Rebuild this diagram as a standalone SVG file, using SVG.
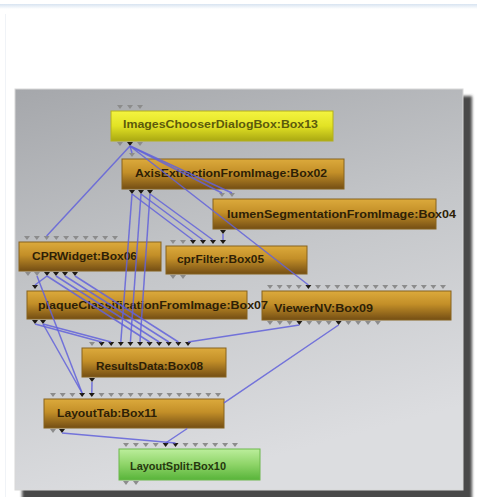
<svg xmlns="http://www.w3.org/2000/svg" xmlns:xlink="http://www.w3.org/1999/xlink" width="477" height="497" viewBox="0 0 477 497">
<defs>
<linearGradient id="panel" x1="0" y1="0" x2="0.3" y2="1">
<stop offset="0" stop-color="#a5a7ab"/>
<stop offset="0.5" stop-color="#c4c6c9"/>
<stop offset="1" stop-color="#dcdde0"/>
</linearGradient>
<linearGradient id="gold" x1="0" y1="0" x2="0" y2="1">
<stop offset="0" stop-color="#dcaa3c"/>
<stop offset="0.45" stop-color="#c38f28"/>
<stop offset="1" stop-color="#744e14"/>
</linearGradient>
<linearGradient id="yellow" x1="0" y1="0" x2="0" y2="1">
<stop offset="0" stop-color="#f4f440"/>
<stop offset="0.5" stop-color="#e2e224"/>
<stop offset="1" stop-color="#a9a812"/>
</linearGradient>
<linearGradient id="green" x1="0" y1="0" x2="0" y2="1">
<stop offset="0" stop-color="#bcee9c"/>
<stop offset="0.5" stop-color="#8ed468"/>
<stop offset="1" stop-color="#58b43a"/>
</linearGradient>
<linearGradient id="topband" x1="0" y1="0" x2="0" y2="1">
<stop offset="0" stop-color="#d8e4f1"/>
<stop offset="1" stop-color="#ffffff"/>
</linearGradient>
<filter id="blur" x="-5%" y="-5%" width="110%" height="110%"><feGaussianBlur stdDeviation="1.5"/></filter>
<path id="pg" d="M-3,0 L3,0 L0,4 Z" fill="#8c8c8c"/>
<path id="pb" d="M-3,0 L3,0 L0,4 Z" fill="#1e1a14"/>
</defs>
<style>
.box{stroke:#86621e;stroke-width:1}
.gold{fill:url(#gold)}
.yel{fill:url(#yellow);stroke:#b4b01c}
.grn{fill:url(#green);stroke:#6cb84c}
.lbl{font-family:"Liberation Sans",Arial,sans-serif;font-weight:bold;font-size:11px;fill:#2e1f06}
.lbl.y{fill:#5c5a0c}
.lbl.g{fill:#26380e}
.con{fill:none;stroke:#6262da;stroke-width:1.5;stroke-opacity:0.85}
</style>
<rect x="0" y="0" width="477" height="497" fill="#ffffff"/>
<rect x="0" y="4" width="477" height="5" fill="url(#topband)"/>
<line x1="5.5" y1="14" x2="5.5" y2="497" stroke="#f0f3f7" stroke-width="1"/>
<rect x="22" y="96" width="450" height="404" fill="#4a4a4a" filter="url(#blur)"/>
<rect x="15" y="89" width="448" height="401" fill="url(#panel)" stroke="#d8d8d8" stroke-width="1"/>

<g id="node-box13">
<rect class="box yel" x="111" y="111" width="222" height="30"/>
<text class="lbl y" x="123" y="128" textLength="195" lengthAdjust="spacingAndGlyphs">ImagesChooserDialogBox:Box13</text>
<use href="#pg" x="120" y="105"/><use href="#pg" x="130" y="105"/><use href="#pg" x="140" y="105"/>
<use href="#pg" x="120" y="142"/><use href="#pb" x="130" y="142"/><use href="#pg" x="140" y="142"/>
</g>
<g id="node-box02">
<rect class="box gold" x="122" y="159" width="222" height="30"/>
<text class="lbl" x="135" y="177" textLength="192" lengthAdjust="spacingAndGlyphs">AxisExtractionFromImage:Box02</text>
<use href="#pg" x="132" y="153"/>
<use href="#pb" x="132" y="190"/><use href="#pb" x="141" y="190"/><use href="#pb" x="150" y="190"/>
</g>
<g id="node-box04">
<rect class="box gold" x="213" y="199" width="223" height="30"/>
<text class="lbl" x="227" y="218" textLength="229" lengthAdjust="spacingAndGlyphs">lumenSegmentationFromImage:Box04</text>
<use href="#pg" x="222" y="193"/><use href="#pg" x="232" y="193"/>
<use href="#pb" x="223" y="230"/>
</g>
<g id="node-box06">
<rect class="box gold" x="19" y="242" width="142" height="29"/>
<text class="lbl" x="32" y="260" textLength="105" lengthAdjust="spacingAndGlyphs">CPRWidget:Box06</text>
<use href="#pg" x="27" y="236"/><use href="#pg" x="36.8" y="236"/><use href="#pg" x="46.6" y="236"/><use href="#pg" x="56.3" y="236"/><use href="#pg" x="66.1" y="236"/><use href="#pg" x="75.9" y="236"/><use href="#pg" x="85.7" y="236"/><use href="#pg" x="95.4" y="236"/><use href="#pg" x="105.2" y="236"/><use href="#pg" x="115" y="236"/>
<use href="#pg" x="28" y="272"/><use href="#pg" x="37" y="272"/><use href="#pb" x="47" y="272"/><use href="#pb" x="56" y="272"/><use href="#pb" x="65" y="272"/><use href="#pb" x="75" y="272"/>
</g>
<g id="node-box05">
<rect class="box gold" x="166" y="246" width="141" height="28"/>
<text class="lbl" x="177" y="263" textLength="87" lengthAdjust="spacingAndGlyphs">cprFilter:Box05</text>
<use href="#pg" x="173" y="240"/><use href="#pg" x="183" y="240"/><use href="#pb" x="193" y="240"/><use href="#pb" x="203" y="240"/><use href="#pb" x="213" y="240"/><use href="#pb" x="223" y="240"/>
<use href="#pg" x="173" y="275"/><use href="#pg" x="183" y="275"/>
</g>
<g id="node-box09">
<rect class="box gold" x="262" y="291" width="189" height="29"/>
<text class="lbl" x="274" y="312" textLength="99" lengthAdjust="spacingAndGlyphs">ViewerNV:Box09</text>
<use href="#pg" x="270" y="285"/><use href="#pg" x="279.6" y="285"/><use href="#pg" x="289.2" y="285"/><use href="#pg" x="298.8" y="285"/><use href="#pb" x="308.4" y="285"/><use href="#pg" x="318" y="285"/><use href="#pg" x="327.7" y="285"/><use href="#pg" x="337.3" y="285"/><use href="#pg" x="346.9" y="285"/><use href="#pg" x="356.5" y="285"/><use href="#pg" x="366.1" y="285"/><use href="#pg" x="375.7" y="285"/><use href="#pg" x="385.3" y="285"/><use href="#pg" x="394.9" y="285"/><use href="#pg" x="404.6" y="285"/><use href="#pg" x="414.2" y="285"/><use href="#pg" x="423.8" y="285"/><use href="#pg" x="433.4" y="285"/><use href="#pg" x="443" y="285"/>
<use href="#pg" x="270" y="321"/><use href="#pg" x="279.8" y="321"/><use href="#pg" x="289.6" y="321"/><use href="#pb" x="299.4" y="321"/><use href="#pg" x="309.2" y="321"/><use href="#pg" x="319" y="321"/><use href="#pg" x="328.8" y="321"/><use href="#pb" x="338.6" y="321"/><use href="#pg" x="348.4" y="321"/><use href="#pg" x="358.2" y="321"/><use href="#pg" x="368" y="321"/><use href="#pg" x="377.8" y="321"/>
</g>
<g id="node-box07">
<rect class="box gold" x="27" y="291" width="220" height="28"/>
<text class="lbl" x="38" y="309" textLength="230" lengthAdjust="spacingAndGlyphs">plaqueClassificationFromImage:Box07</text>
<use href="#pb" x="35" y="285"/>
<use href="#pb" x="35" y="320"/><use href="#pb" x="43" y="320"/>
</g>
<g id="node-box08">
<rect class="box gold" x="82" y="348" width="144" height="29"/>
<text class="lbl" x="96" y="370" textLength="107" lengthAdjust="spacingAndGlyphs">ResultsData:Box08</text>
<use href="#pg" x="92" y="342"/><use href="#pb" x="101.6" y="342"/><use href="#pb" x="111.2" y="342"/><use href="#pb" x="120.8" y="342"/><use href="#pb" x="130.4" y="342"/><use href="#pb" x="140" y="342"/><use href="#pb" x="149.6" y="342"/><use href="#pb" x="159.2" y="342"/><use href="#pb" x="168.8" y="342"/><use href="#pb" x="178.4" y="342"/><use href="#pb" x="188" y="342"/>
<use href="#pb" x="92" y="378"/>
</g>
<g id="node-box11">
<rect class="box gold" x="44" y="399" width="180" height="29"/>
<text class="lbl" x="57" y="417" textLength="100" lengthAdjust="spacingAndGlyphs">LayoutTab:Box11</text>
<use href="#pg" x="53" y="393"/><use href="#pg" x="62.7" y="393"/><use href="#pg" x="72.4" y="393"/><use href="#pb" x="82.1" y="393"/><use href="#pb" x="91.8" y="393"/><use href="#pg" x="101.5" y="393"/><use href="#pg" x="111.2" y="393"/><use href="#pg" x="120.9" y="393"/><use href="#pg" x="130.6" y="393"/><use href="#pg" x="140.4" y="393"/><use href="#pg" x="150.1" y="393"/><use href="#pg" x="159.8" y="393"/><use href="#pg" x="169.5" y="393"/><use href="#pg" x="179.2" y="393"/><use href="#pg" x="188.9" y="393"/><use href="#pg" x="198.6" y="393"/><use href="#pg" x="208.3" y="393"/><use href="#pg" x="218" y="393"/>
<use href="#pg" x="53" y="429"/><use href="#pb" x="62" y="429"/>
</g>
<g id="node-box10">
<rect class="box grn" x="119" y="449" width="141" height="31"/>
<text class="lbl g" x="130" y="470" textLength="96" lengthAdjust="spacingAndGlyphs">LayoutSplit:Box10</text>
<use href="#pg" x="126" y="443"/><use href="#pg" x="135.9" y="443"/><use href="#pg" x="145.8" y="443"/><use href="#pg" x="155.7" y="443"/><use href="#pb" x="165.6" y="443"/><use href="#pb" x="175.5" y="443"/><use href="#pg" x="185.5" y="443"/><use href="#pg" x="195.4" y="443"/><use href="#pg" x="205.3" y="443"/><use href="#pg" x="215.2" y="443"/><use href="#pg" x="225.1" y="443"/><use href="#pg" x="235" y="443"/>
<use href="#pg" x="126" y="481"/><use href="#pg" x="136" y="481"/>
</g>

<g id="connectors">
<path class="con" d="M130,146 L132,153"/>
<path class="con" d="M130,146 L46.6,236"/>
<path class="con" d="M130,146 L222,193"/>
<path class="con" d="M130,146 L232,193"/>
<path class="con" d="M130,146 L308.4,285"/>
<path class="con" d="M132,194 L120.8,342"/>
<path class="con" d="M141,194 L130.4,342"/>
<path class="con" d="M150,194 L140,342"/>
<path class="con" d="M132,194 L193,240"/>
<path class="con" d="M141,194 L203,240"/>
<path class="con" d="M150,194 L213,240"/>
<path class="con" d="M223,234 L223,240"/>
<path class="con" d="M47,276 L149.6,342"/>
<path class="con" d="M56,276 L159.2,342"/>
<path class="con" d="M65,276 L168.8,342"/>
<path class="con" d="M75,276 L178.4,342"/>
<path class="con" d="M47,276 L35,285"/>
<path class="con" d="M37,276 L82.1,393"/>
<path class="con" d="M35,324 L101.6,342"/>
<path class="con" d="M43,324 L111.2,342"/>
<path class="con" d="M43,324 L82.1,393"/>
<path class="con" d="M299.4,325 L188,342"/>
<path class="con" d="M338.6,325 L224,402.8 M187.3,428.5 L165.6,443"/>
<path class="con" d="M92,382 L91.8,393"/>
<path class="con" d="M62,433 L175.5,443"/>
</g>
</svg>
